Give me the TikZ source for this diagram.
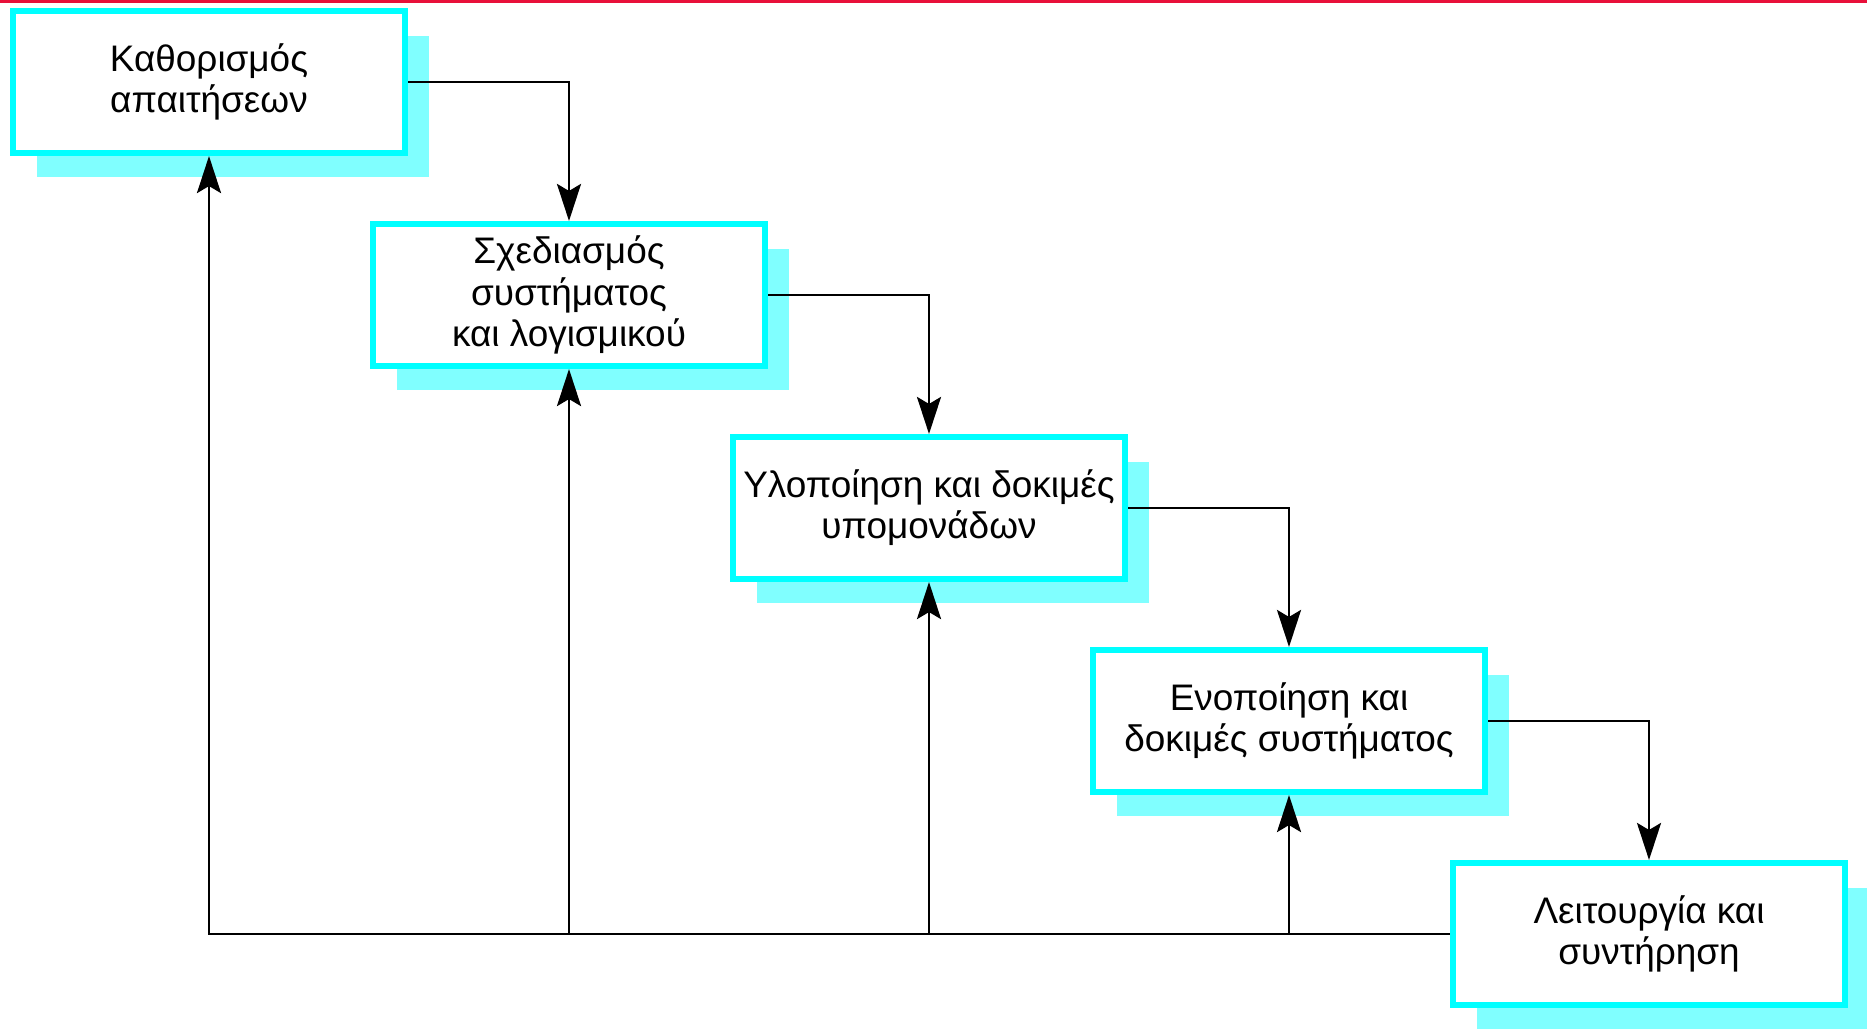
\documentclass[tikz,border=0pt]{standalone}
\usepackage{fontspec}
\setmainfont{Liberation Sans}
\usetikzlibrary{arrows.meta,shadows}
\tikzset{>={Stealth[length=0.37cm,width=0.24cm,inset=0.07cm]}}
\definecolor{boxcyan}{RGB}{0,255,255}
\definecolor{shadecyan}{RGB}{128,255,255}
\definecolor{topred}{RGB}{232,16,58}
\tikzset{phase/.style={draw=boxcyan, line width=0.065cm, fill=white, minimum width=3.915cm, minimum height=1.415cm, inner sep=0pt, align=center, font=\fontsize{10.5}{11.7}\selectfont, drop shadow={shadow xshift=0.24cm, shadow yshift=-0.245cm, fill=shadecyan, opacity=1}}}
\tikzset{flow/.style={->, line width=0.027cm}}

\begin{document}
\begin{tikzpicture}[x=0.01cm, y=-0.01cm]
  \useasboundingbox (0,0) rectangle (1867,1030);
  % red rule on top
  \fill[topred] (0,0) rectangle (1867,2.5);
  % phases
  \node (req) at (209,82) [phase] {Καθορισμός\\απαιτήσεων};
  \node (design) at (569,295) [phase] {Σχεδιασμός\\συστήματος\\και λογισμικού};
  \node (impl) at (929,508) [phase] {Υλοποίηση και δοκιμές\\υπομονάδων};
  \node (integ) at (1289,721) [phase] {Ενοποίηση και\\δοκιμές συστήματος};
  \node (oper) at (1649,934) [phase] {Λειτουργία και\\συντήρηση};
  % downward flow
  \draw[flow] (req.east) -| (design.north);
  \draw[flow] (design.east) -| (impl.north);
  \draw[flow] (impl.east) -| (integ.north);
  \draw[flow] (integ.east) -| (oper.north);
  % feedback
  \draw[flow] (oper.west) -| (req.south);
  \draw[flow] (design.south |- oper.west) -- (design.south);
  \draw[flow] (impl.south |- oper.west) -- (impl.south);
  \draw[flow] (integ.south |- oper.west) -- (integ.south);
\end{tikzpicture}
\end{document}
